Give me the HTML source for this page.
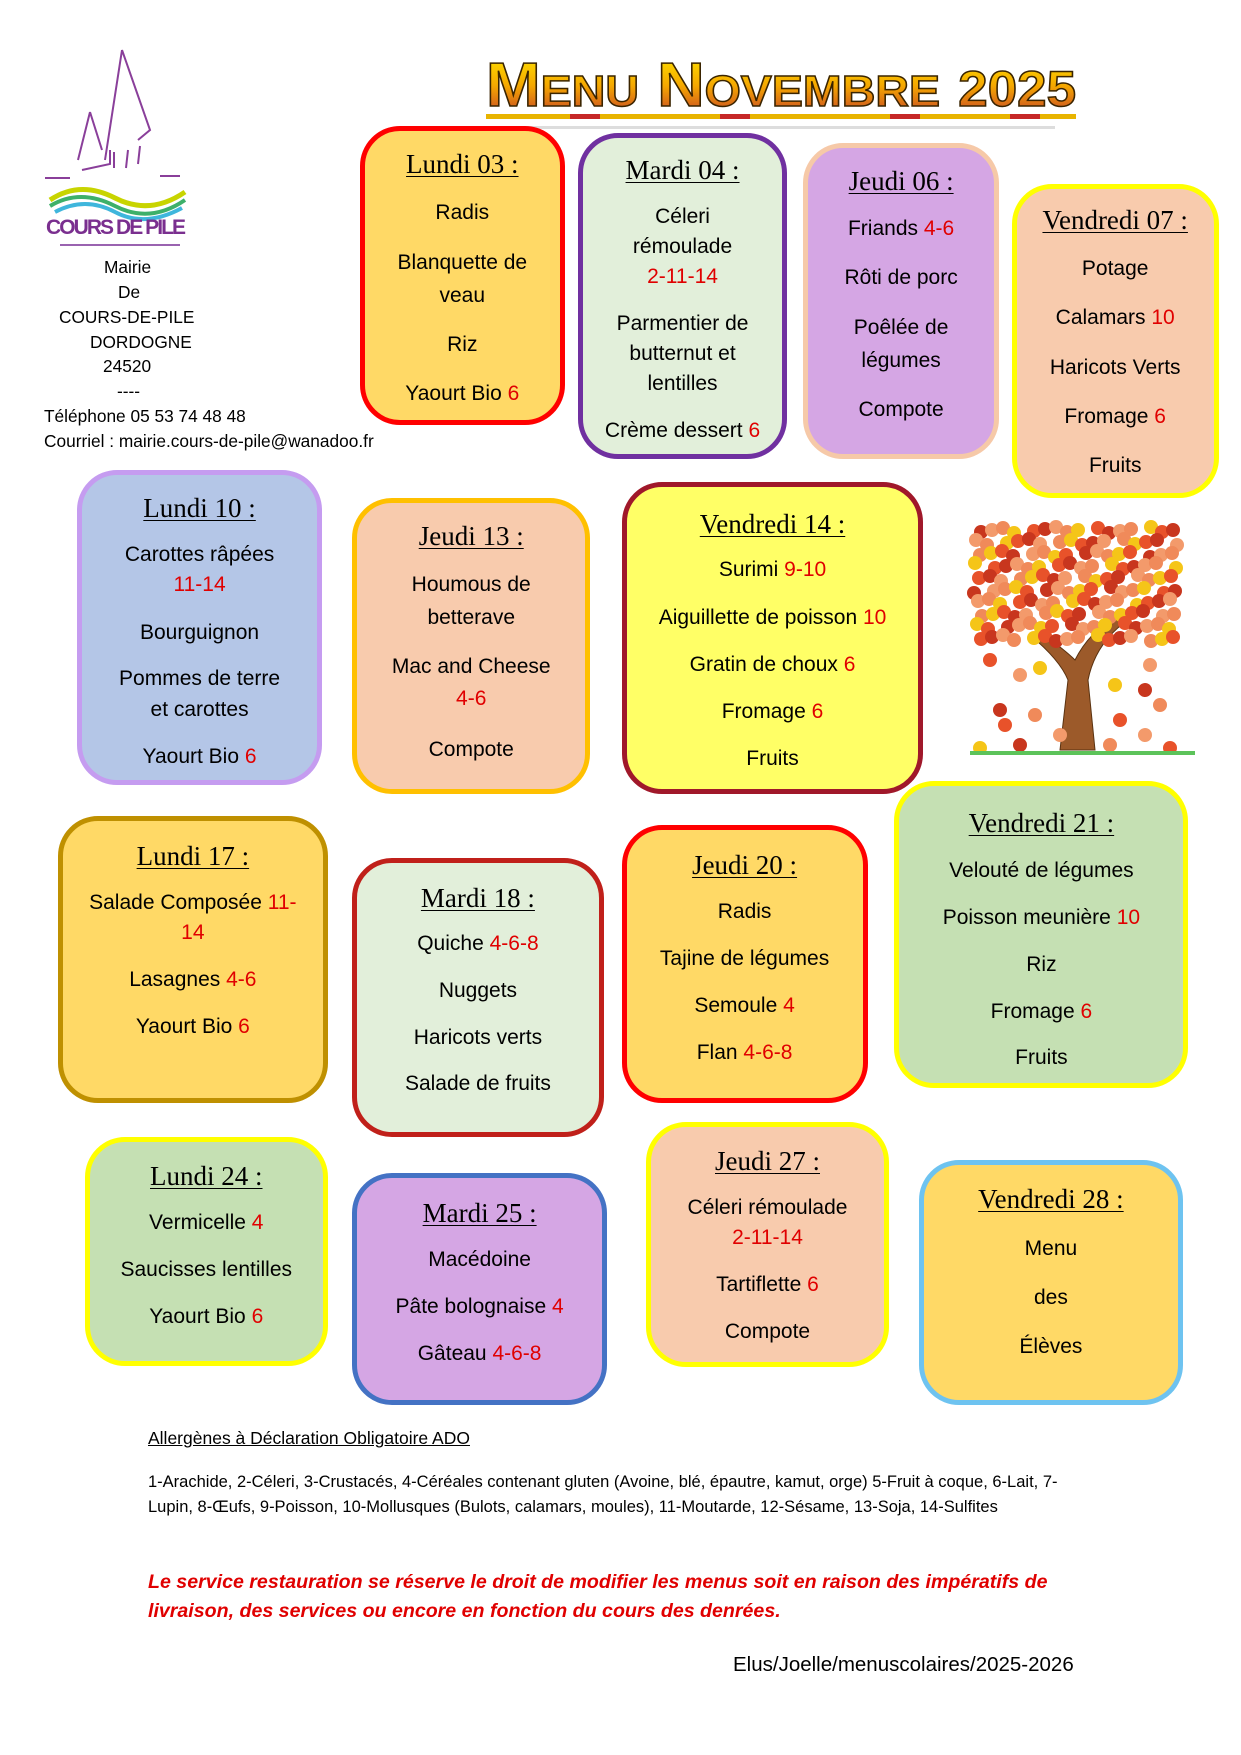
<!DOCTYPE html>
<html><head><meta charset="utf-8">
<style>
html,body{margin:0;padding:0;background:#fff;}
body{width:1241px;height:1755px;position:relative;overflow:hidden;font-family:"Liberation Sans",sans-serif;color:#000;}
.box{position:absolute;box-sizing:border-box;border-radius:40px;text-align:center;}
.ttl{position:absolute;left:-20px;right:-20px;font-family:"Liberation Serif",serif;font-size:27px;text-decoration:underline;text-underline-offset:3px;text-decoration-thickness:1px;line-height:30px;white-space:nowrap;}
.it{position:absolute;left:-20px;right:-20px;font-size:21px;line-height:30px;white-space:nowrap;}
.r{color:#e00000;}
.addr{position:absolute;font-size:17.3px;line-height:20px;white-space:nowrap;}
</style></head>
<body>
<svg style="position:absolute;left:30px;top:40px" width="180" height="210" viewBox="0 0 180 210">
 <g fill="none" stroke="#8a3f9a" stroke-width="2">
  <path d="M92 10 L75 120 M92 10 L120 90 L108 100 M60 72 L48 120 M60 72 L72 110"/>
  <path d="M52 130 L80 124 L80 110 M84 112 L84 128 M98 110 L96 128 M110 106 L108 124"/>
  <path d="M15 138 L40 138 M130 136 L150 136"/>
 </g>
 <path d="M20 160 Q50 140 85 158 T155 152" stroke="#c8d400" stroke-width="5" fill="none"/>
 <path d="M20 166 Q50 148 85 166 T155 160" stroke="#3db06a" stroke-width="4" fill="none"/>
 <path d="M25 172 Q55 156 85 172 T152 168" stroke="#3fb6dc" stroke-width="4" fill="none"/>
 <text x="16" y="194" font-family="Liberation Sans" font-weight="bold" font-size="21" fill="#7a2f8f" textLength="140">COURS DE PILE</text>
 <line x1="30" y1="205" x2="150" y2="205" stroke="#9a63b0" stroke-width="2"/>
</svg>
<div class="addr" style="left:104px;top:257px">Mairie</div>
<div class="addr" style="left:118px;top:282px">De</div>
<div class="addr" style="left:59px;top:307px">COURS-DE-PILE</div>
<div class="addr" style="left:90px;top:332px">DORDOGNE</div>
<div class="addr" style="left:103px;top:356px">24520</div>
<div class="addr" style="left:117px;top:381px">----</div>
<div class="addr" style="left:44px;top:406px">Téléphone 05 53 74 48 48</div>
<div class="addr" style="left:44px;top:431px">Courriel : mairie.cours-de-pile@wanadoo.fr</div>

<svg style="position:absolute;left:470px;top:44px" width="620" height="92" viewBox="0 0 620 92">
 <defs><linearGradient id="g" x1="0" y1="0" x2="0" y2="1"><stop offset="0" stop-color="#ffe600"/><stop offset="0.5" stop-color="#f5a800"/><stop offset="1" stop-color="#c0392b"/></linearGradient></defs>
 <rect x="20" y="82" width="565" height="3" fill="#ddd"/>
 <text x="16" y="62" font-family="Liberation Sans" font-weight="bold" font-size="62" fill="url(#g)" stroke="#3a2400" stroke-width="1.5" textLength="590" lengthAdjust="spacingAndGlyphs">M<tspan font-size="44">ENU</tspan> N<tspan font-size="44">OVEMBRE</tspan> <tspan font-size="50">2025</tspan></text>
 <rect x="16" y="70" width="590" height="5" fill="#e8b400"/>
 <rect x="100" y="70" width="30" height="5" fill="#c62828"/><rect x="250" y="70" width="30" height="5" fill="#c62828"/><rect x="420" y="70" width="30" height="5" fill="#c62828"/><rect x="540" y="70" width="30" height="5" fill="#c62828"/>
</svg>

<svg id="tree" style="position:absolute;left:960px;top:510px" width="240" height="260" viewBox="0 0 240 260"></svg>

<div class="addr" style="left:148px;top:1428px;text-decoration:underline;font-size:17.5px">Allergènes à Déclaration Obligatoire ADO</div>
<div class="addr" style="left:148px;top:1470px;font-size:16.5px;line-height:25px">1-Arachide, 2-Céleri, 3-Crustacés, 4-Céréales contenant gluten (Avoine, blé, épautre, kamut, orge) 5-Fruit à coque, 6-Lait, 7-<br>Lupin, 8-Œufs, 9-Poisson, 10-Mollusques (Bulots, calamars, moules), 11-Moutarde, 12-Sésame, 13-Soja, 14-Sulfites</div>
<div class="addr" style="left:148px;top:1568px;font-size:19.6px;line-height:29px;color:#e00000;font-weight:bold;font-style:italic">Le service restauration se réserve le droit de modifier les menus soit en raison des impératifs de<br>livraison, des services ou encore en fonction du cours des denrées.</div>
<div class="addr" style="left:733px;top:1655px;font-size:20.5px">Elus/Joelle/menuscolaires/2025-2026</div>

<script>
const S=1.118;
// [x1,y1,x2,y2,fill,border,title,titleY,items:[[text,red,yCenters...]]]
const boxes=[
[322,113,505,380,'#ffd966','#ff0000','Lundi 03 :',145,[['Radis','',189],['Blanquette de<br>veau','',233,263],['Riz','',307],['Yaourt Bio','6',351]]],
[517,119,704,411,'#e2efda','#7030a0','Mardi 04 :',150,[['Céleri<br>rémoulade<br><span class="r">2-11-14</span>','',192,219,246],['Parmentier de<br>butternut et<br>lentilles','',288,315,342],['Crème dessert','6',384]]],
[718,128,894,411,'#d5a6e4','#f6c9a8','Jeudi 06 :',160,[['Friands','4-6',203],['Rôti de porc','',247],['Poêlée de<br>légumes','',292,321],['Compote','',365]]],
[905,165,1090,445,'#f8cbad','#ffff00','Vendredi 07 :',195,[['Potage','',239],['Calamars','10',283],['Haricots Verts','',327],['Fromage','6',371],['Fruits','',415]]],
[69,420,288,702,'#b4c6e7','#c59cf0','Lundi 10 :',453,[['Carottes râpées<br><span class="r">11-14</span>','',495,522],['Bourguignon','',564],['Pommes de terre<br>et carottes','',606,633],['Yaourt Bio','6',675]]],
[315,445,528,710,'#f8cbad','#ffc000','Jeudi 13 :',478,[['Houmous de<br>betterave','',521,551],['Mac and Cheese<br><span class="r">4-6</span>','',595,624],['Compote','',669]]],
[556,431,826,710,'#ffff66','#a0182a','Vendredi 14 :',467,[['Surimi','9-10',508],['Aiguillette de poisson','10',551],['Gratin de choux','6',593],['Fromage','6',635],['Fruits','',677]]],
[52,730,293,987,'#ffd966','#bf9000','Lundi 17 :',764,[['Salade Composée <span class="r">11-</span><br><span class="r">14</span>','',806,833],['Lasagnes','4-6',875],['Yaourt Bio','6',917]]],
[315,767,540,1017,'#e2efda','#c0201a','Mardi 18 :',801,[['Quiche','4-6-8',843],['Nuggets','',885],['Haricots verts','',927],['Salade de fruits','',968]]],
[556,738,776,987,'#ffd966','#ff0000','Jeudi 20 :',772,[['Radis','',814],['Tajine de légumes','',856],['Semoule','4',898],['Flan','4-6-8',940]]],
[800,699,1063,973,'#c5e0b3','#ffff00','Vendredi 21 :',734,[['Velouté de légumes','',777],['Poisson meunière','10',819],['Riz','',861],['Fromage','6',903],['Fruits','',945]]],
[76,1017,293,1222,'#c5e0b3','#ffff00','Lundi 24 :',1050,[['Vermicelle','4',1092],['Saucisses lentilles','',1134],['Yaourt Bio','6',1176]]],
[315,1049,543,1257,'#d5a6e4','#4472c4','Mardi 25 :',1083,[['Macédoine','',1125],['Pâte bolognaise','4',1167],['Gâteau','4-6-8',1209]]],
[578,1004,795,1223,'#f8cbad','#ffff00','Jeudi 27 :',1037,[['Céleri rémoulade<br><span class="r">2-11-14</span>','',1079,1106],['Tartiflette','6',1148],['Compote','',1190]]],
[822,1038,1058,1257,'#ffd966','#6ec3f0','Vendredi 28 :',1071,[['Menu','',1115],['des','',1159],['Élèves','',1203]]]
];
boxes.forEach((b,i)=>{
  const d=document.createElement('div');
  d.className='box';
  
  
  const x=b[0]*S,y=b[1]*S,w=(b[2]-b[0])*S,h=(b[3]-b[1])*S;
  d.style.cssText=`left:${x}px;top:${y}px;width:${w}px;height:${h}px;background:${b[4]};border:5px solid ${b[5]};`;
  const t=document.createElement('div');
  t.className='ttl';
  
  
  t.innerHTML=b[6];
  t.style.top=(b[7]*S-y-5-15+2)+'px';
  d.appendChild(t);
  b[8].forEach(it=>{
    const e=document.createElement('div');
    e.className='it';
    
    
    const ys=it.slice(2);
    const lh=ys.length>1?(ys[1]-ys[0])*S:30;
    e.style.lineHeight=lh+'px';
    e.style.top=(ys[0]*S-y-5-lh/2+2)+'px';
    e.innerHTML=it[0]+(it[1]?' <span class="r">'+it[1]+'</span>':'');
    d.appendChild(e);
  });
  document.body.appendChild(d);
});
// tree
const tree=document.getElementById('tree');
const ns='http://www.w3.org/2000/svg';
const trunk=document.createElementNS(ns,'path');


trunk.setAttribute('d','M100 240 L108 170 Q100 150 70 125 L80 122 Q105 140 115 150 Q130 120 160 105 L165 112 Q135 135 128 170 L135 240 Z');
trunk.setAttribute('fill','#9c5a2a');trunk.setAttribute('stroke','#5a3210');
tree.appendChild(trunk);
const cols=['#e8522a','#f39a6b','#f5c518','#c8361e','#f08a5a'];
let k=0;
for(let yy=20;yy<140;yy+=12){for(let xx=18;xx<225;xx+=13){k++;
 const c=document.createElementNS(ns,'circle');
 
 
 c.setAttribute('cx',xx+((k*7)%9)-4);c.setAttribute('cy',yy+((k*5)%7)-3);c.setAttribute('r',7);
 c.setAttribute('fill',cols[(k*3)%5]);tree.appendChild(c);}}
const fallen=[[30,150],[60,165],[80,158],[40,200],[75,205],[45,215],[100,225],[155,175],[185,180],[200,195],[160,210],[185,225],[20,238],[60,235],[150,235],[210,238],[190,155]];
fallen.forEach((p,i)=>{
 const c=document.createElementNS(ns,'circle');
 
 
 c.setAttribute('cx',p[0]);c.setAttribute('cy',p[1]);c.setAttribute('r',7);
 c.setAttribute('fill',cols[i%5]);tree.appendChild(c);
});
const grass=document.createElementNS(ns,'rect');


grass.setAttribute('x',10);grass.setAttribute('y',241);grass.setAttribute('width',225);grass.setAttribute('height',4);grass.setAttribute('fill','#5cc35a');
tree.appendChild(grass);
</script>
</body></html>
